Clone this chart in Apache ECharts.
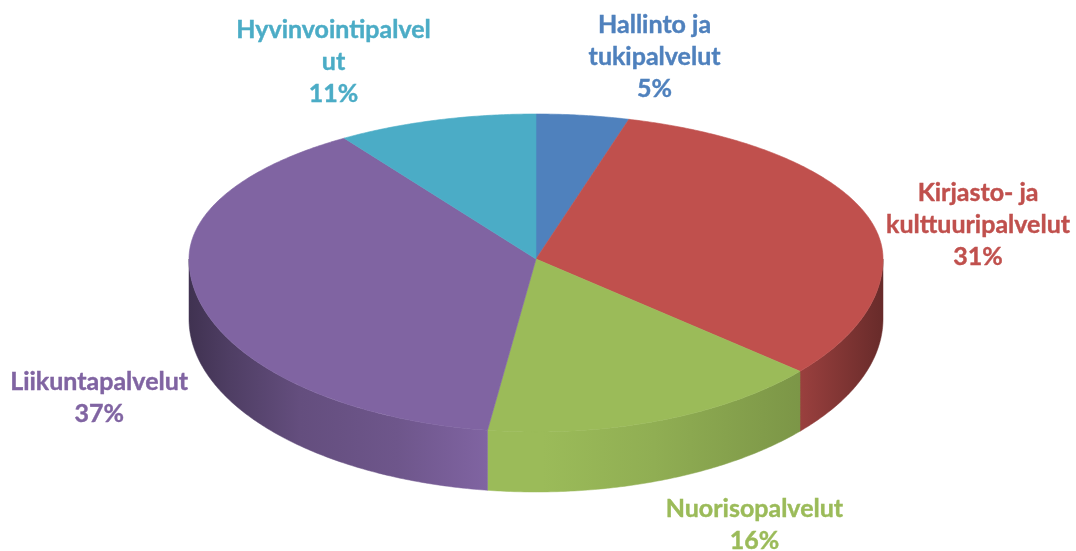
<!DOCTYPE html>
<html><head><meta charset="utf-8">
<style>html,body{margin:0;padding:0;background:#fff}#c{width:1076px;height:551px}</style>
<script src="https://cdn.jsdelivr.net/npm/echarts@6/dist/echarts.min.js"></script>
</head><body><div id="c"></div>
<script>
// Data (clockwise from 12 o'clock)
const categories = ['Hallinto ja\ntukipalvelut','Kirjasto- ja\nkulttuuripalvelut','Nuorisopalvelut','Liikuntapalvelut','Hyvinvointipalvel\nut'];
const values = [5, 31, 16.3, 37.2, 10.5];
const colors = ['#4F81BD','#C0504D','#9BBB59','#8064A2','#4BACC6'];
// Label placement relative to the rim point at each slice's middle angle
const labelOffsets = [[72,-58],[113.5,13],[97,104],[-102,94],[-105,-58]];
// Pie projection
const pie = {cx:536, cy:259, rx:347, ryBack:145, ryFront:173, depth:60, warpBack:0.855, warpFront:0.97};
// Side wall shading, as [fraction of width, brightness]
const wallShade = [[0,0.50],[0.06,0.62],[0.16,0.78],[0.30,0.86],[0.43,1],[0.51,1],[0.67,0.93],[0.88,0.80],[1,0.54]];
const labelFont = {size:25, family:'Lato', lineHeight:32};

const total = values.reduce((a,b)=>a+b,0);
function rim(theta){
  const s=Math.sin(theta), c=Math.cos(theta);
  const back=c>=0, warp=back?pie.warpBack:pie.warpFront;
  const n=Math.hypot(warp*s,c);
  return [pie.cx+pie.rx*warp*s/n, pie.cy-(back?pie.ryBack:pie.ryFront)*c/n];
}
function shade(hex,f){
  const n=parseInt(hex.slice(1),16);
  return 'rgb('+[n>>16,(n>>8)&255,n&255].map(v=>Math.round(v*f)).join(',')+')';
}
function sweep(a0,a1){
  const steps=Math.max(8,Math.ceil((a1-a0)/0.01)), pts=[];
  for(let k=0;k<=steps;k++) pts.push(rim(a0+(a1-a0)*k/steps));
  return pts;
}
const starts=[]; let acc=0;
values.forEach(v=>{starts.push(acc);acc+=v;});

function renderItem(params){
  const i=params.dataIndex;
  const a0=starts[i]/total*2*Math.PI, a1=(starts[i]+values[i])/total*2*Math.PI;
  const children=[];
  // the wall only shows on the front half of the rim
  const w0=Math.max(a0,Math.PI/2), w1=Math.min(a1,Math.PI*1.5);
  if(w1>w0){
    const front=sweep(w0,w1);
    const lower=front.slice().reverse().map(p=>[p[0],p[1]+pie.depth]);
    const grad=new echarts.graphic.LinearGradient(pie.cx-pie.rx,0,pie.cx+pie.rx,0,
      wallShade.map(s=>({offset:s[0],color:shade(colors[i],s[1])})),true);
    children.push({type:'polygon',z2:1,shape:{points:front.concat(lower)},
      style:{fill:grad,stroke:grad,lineWidth:0.5}});
  }
  children.push({type:'polygon',z2:2,shape:{points:[[pie.cx,pie.cy]].concat(sweep(a0,a1))},
    style:{fill:colors[i],stroke:colors[i],lineWidth:0.6}});
  const mid=rim((a0+a1)/2), off=labelOffsets[i];
  children.push({type:'text',z2:3,style:{
    x:mid[0]+off[0],y:mid[1]+off[1],
    text:categories[i]+'\n'+Math.round(values[i]/total*100)+'%',
    align:'center',verticalAlign:'middle',fill:colors[i],
    fontFamily:labelFont.family,fontWeight:'bold',fontSize:labelFont.size,lineHeight:labelFont.lineHeight,
    stroke:colors[i],lineWidth:0.4}});
  return {type:'group',children};
}
const chart=echarts.init(document.getElementById('c'),null,{renderer:'canvas'});
chart.setOption({animation:false,backgroundColor:'#fff',
  series:[{type:'custom',coordinateSystem:'none',renderItem,silent:true,clip:false,
    data:values.map(v=>[v])}]});
</script></body></html>
